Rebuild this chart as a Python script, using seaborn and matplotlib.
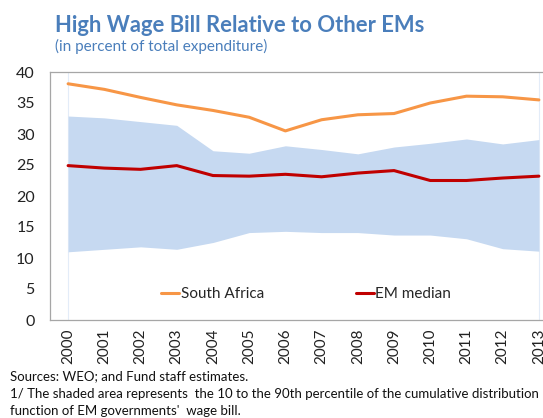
import numpy as np
import pandas as pd
import matplotlib
matplotlib.use("Agg")
import matplotlib.pyplot as plt
import seaborn as sns

years = list(range(2000, 2014))
south_africa = [38.1, 37.2, 35.9, 34.7, 33.8, 32.7, 30.5, 32.3, 33.1, 33.3, 35.0, 36.1, 36.0, 35.5]
em_median = [24.9, 24.5, 24.3, 24.9, 23.3, 23.2, 23.5, 23.1, 23.7, 24.1, 22.5, 22.5, 22.9, 23.2]
p90 = [32.9, 32.6, 32.0, 31.4, 27.3, 26.9, 28.1, 27.5, 26.8, 27.9, 28.5, 29.2, 28.4, 29.1]
p10 = [11.0, 11.4, 11.8, 11.4, 12.5, 14.1, 14.3, 14.1, 14.1, 13.7, 13.7, 13.1, 11.5, 11.1]

sns.set_style("white")
plt.rcParams["font.family"] = ["Lato", "DejaVu Sans"]

df = pd.DataFrame({"year": years, "South Africa": south_africa, "EM median": em_median})
long = df.melt(id_vars="year", var_name="series", value_name="value")

fig = plt.figure(figsize=(5.43, 4.18), dpi=100)
ax = fig.add_axes([50 / 543, 98 / 418, 507 / 543, 248 / 418])

ax.fill_between(years, p10, p90, color="#C6D9F1", linewidth=0, zorder=1)
for x in (years[0], years[-1]):
    ax.axvline(x, color="#E3ECF8", linewidth=0.8, zorder=0.5)

sns.lineplot(data=long, x="year", y="value", hue="series",
             palette={"South Africa": "#F79646", "EM median": "#C00000"},
             linewidth=2.2, ax=ax, zorder=3)

ax.set_xlim(1999.5, 2013.5)
ax.set_ylim(0, 40)
ax.set_yticks(range(0, 41, 5))
ax.set_xticks(years)
ax.set_xticklabels([str(y) for y in years], rotation=90)
ax.set_xticks(np.arange(1999.5, 2014, 1), minor=True)
ax.tick_params(axis="x", which="major", length=0, pad=6, labelsize=11, colors="#222222")
ax.tick_params(axis="x", which="minor", direction="in", length=5, width=0.8, color="#A6A6A6")
ax.tick_params(axis="y", length=0, pad=11, labelsize=11.5, colors="#222222")
ax.set_xlabel("")
ax.set_ylabel("")
for side in ("left", "bottom", "top"):
    ax.spines[side].set_color("#A6A6A6")
    ax.spines[side].set_linewidth(0.9)
ax.spines["right"].set_visible(False)

leg = ax.legend(loc="lower center", bbox_to_anchor=(0.505, 0.02), ncol=2, frameon=False,
                fontsize=11, handlelength=1.2, handletextpad=0.1, columnspacing=6.0)

fig.text(55 / 543, 1 - 25 / 418, "High Wage Bill Relative to Other EMs", fontsize=15.8,
         fontweight="bold", color="#4A7EBB", va="center", ha="left")
fig.text(55 / 543, 1 - 46 / 418, "(in percent of total expenditure)", fontsize=11,
         color="#4A7EBB", va="center", ha="left")

notes = ["Sources: WEO; and Fund staff estimates.",
         "1/ The shaded area represents  the 10 to the 90th percentile of the cumulative distribution",
         "function of EM governments'  wage bill."]
for i, line in enumerate(notes):
    fig.text(10 / 543, 1 - (376 + 17.5 * i) / 418, line, fontsize=9.5, color="#111111",
             va="center", ha="left")

fig.savefig("out.png", dpi=100)
